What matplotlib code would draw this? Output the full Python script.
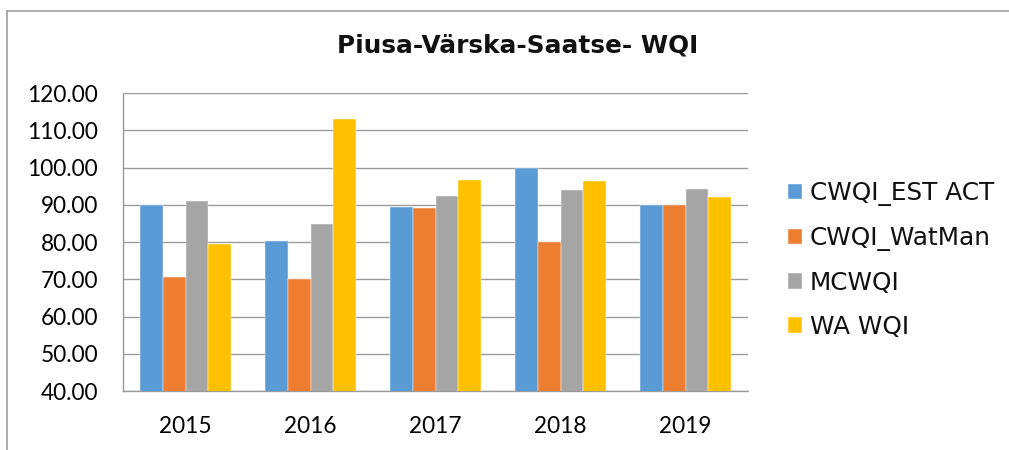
import matplotlib
matplotlib.use("Agg")
import matplotlib.pyplot as plt
from matplotlib.lines import Line2D
from matplotlib.ticker import FormatStrFormatter
import numpy as np

years = ["2015", "2016", "2017", "2018", "2019"]
series_names = ["CWQI_EST ACT", "CWQI_WatMan", "MCWQI", "WA WQI"]
cwqi_est_act = [90.0, 80.2, 89.4, 100.0, 90.0]
cwqi_watman = [70.7, 70.0, 89.1, 80.0, 89.8]
mcwqi = [91.0, 84.8, 92.3, 93.9, 94.3]
wa_wqi = [79.4, 112.9, 96.6, 96.3, 92.1]
colors = ["#5B9BD5", "#ED7D31", "#A5A5A5", "#FFC000"]

W, H = 1009, 450
fig = plt.figure(figsize=(W / 100, H / 100), dpi=100)
ax = fig.add_axes([123 / W, 1 - 391 / H, (748 - 123) / W, (391 - 93) / H])

x = np.arange(len(years))
bw = 0.181
for i, (vals, name, c) in enumerate(zip([cwqi_est_act, cwqi_watman, mcwqi, wa_wqi], series_names, colors)):
    ax.bar(x + (i - 1.5) * bw, vals, width=bw, color=c, label=name, zorder=3,
           edgecolor="white", linewidth=0.3)

ax.set_xlim(-0.5, len(years) - 0.5)
ax.set_ylim(40, 120)
ax.set_yticks(np.arange(40, 121, 10))
ax.yaxis.set_major_formatter(FormatStrFormatter("%.2f"))
ax.set_xticks(x)
ax.set_xticklabels(years)
ax.grid(axis="y", color="#9a9a9a", linewidth=1.0, zorder=0)
ax.set_axisbelow(True)
for s in ["top", "right"]:
    ax.spines[s].set_visible(False)
for s in ["left", "bottom"]:
    ax.spines[s].set_color("#9a9a9a")
    ax.spines[s].set_linewidth(1.0)
ax.tick_params(axis="both", length=0, labelsize=16.3, pad=18)
for lab in ax.get_xticklabels() + ax.get_yticklabels():
    lab.set_fontfamily("Lato")
    lab.set_color("#000000")

fig.text(518 / W, 1 - 46 / H, "Piusa-Värska-Saatse- WQI", ha="center", va="center",
         fontsize=17.8, fontweight="bold", fontfamily="DejaVu Sans", color="#111111")

leg = fig.legend(loc="center left", bbox_to_anchor=(788 / W, 1 - 260 / H),
                 frameon=False, prop={"family": "DejaVu Sans", "size": 17.8},
                 handlelength=0.58, handleheight=0.58, handletextpad=0.3,
                 labelspacing=0.8, borderpad=0, borderaxespad=0)
for t in leg.get_texts():
    t.set_color("#111111")

frame_c = "#a0a0a0"
fig.add_artist(Line2D([6.5 / W, 6.5 / W], [0, 1 - 10.5 / H], transform=fig.transFigure,
                      color=frame_c, linewidth=1.2))
fig.add_artist(Line2D([6.5 / W, 1], [1 - 10.5 / H, 1 - 10.5 / H], transform=fig.transFigure,
                      color=frame_c, linewidth=1.2))

fig.savefig("out.png", dpi=100)
